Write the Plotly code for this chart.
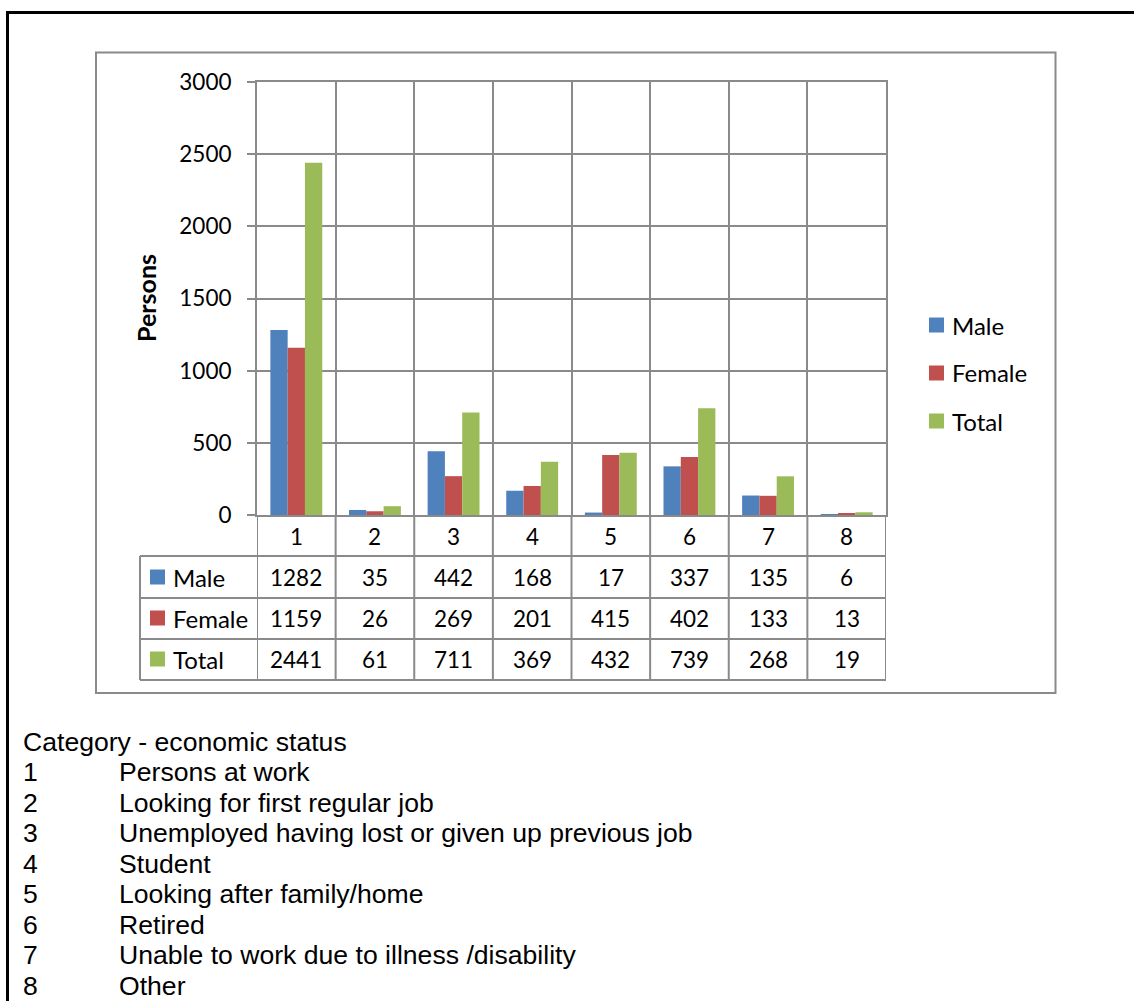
import plotly.graph_objects as go

# ---------------- data ----------------
categories = [1, 2, 3, 4, 5, 6, 7, 8]
series_names = ["Male", "Female", "Total"]
male = [1282, 35, 442, 168, 17, 337, 135, 6]
female = [1159, 26, 269, 201, 415, 402, 133, 13]
total = [2441, 61, 711, 369, 432, 739, 268, 19]
y_ticks = [0, 500, 1000, 1500, 2000, 2500, 3000]
y_title = "Persons"
note_title = "Category - economic status"
category_labels = [
    "Persons at work",
    "Looking for first regular job",
    "Unemployed having lost or given up previous job",
    "Student",
    "Looking after family/home",
    "Retired",
    "Unable to work due to illness /disability",
    "Other",
]

# ---------------- styling ----------------
W, H = 1134, 1001
COLORS = ["#4F81BD", "#C0504D", "#9BBB59"]
GRID = "#8a8a8a"
FONT = "Lato"
FS_NUM = 22.5
FS_TXT = 24


def X(p):
    return p / W


def Y(p):
    return 1 - p / H


series_values = [male, female, total]

fig = go.Figure()
for name, vals, col in zip(series_names, series_values, COLORS):
    fig.add_trace(go.Bar(x=categories, y=vals, name=name, marker_color=col,
                         marker_line_width=0, showlegend=False))

plot_left, plot_right, plot_top, plot_bottom = 257, 886, 82, 515
row_y = [536, 577, 618, 659]          # text centres of table rows
row_lines = [556, 598, 639, 680]
table_left = 140

shapes = []
annotations = []

# outer black frame and inner chart frame
shapes.append(dict(type="rect", xref="paper", yref="paper", x0=X(7.5), x1=X(1150),
                   y0=Y(12.5), y1=Y(1020), line=dict(color="black", width=3)))
shapes.append(dict(type="rect", xref="paper", yref="paper", x0=X(96), x1=X(1055.5),
                   y0=Y(52.5), y1=Y(693), line=dict(color=GRID, width=2)))

# data-table grid
for ly in row_lines:
    shapes.append(dict(type="line", xref="paper", yref="paper", x0=X(table_left), x1=X(plot_right),
                       y0=Y(ly), y1=Y(ly), line=dict(color=GRID, width=2)))
for c in categories + [0]:
    shapes.append(dict(type="line", xref="x", yref="paper", x0=c + 0.5, x1=c + 0.5,
                       y0=Y(plot_bottom), y1=Y(row_lines[-1]), line=dict(color=GRID, width=2)))
shapes.append(dict(type="line", xref="paper", yref="paper", x0=X(table_left), x1=X(table_left),
                   y0=Y(row_lines[0]), y1=Y(row_lines[-1]), line=dict(color=GRID, width=2)))

# category labels row
for c in categories:
    annotations.append(dict(x=c, y=Y(row_y[0]), xref="x", yref="paper", text=str(c),
                            showarrow=False, font=dict(family=FONT, size=FS_NUM, color="black"),
                            xanchor="center", yanchor="middle"))

# table rows
for i, (name, vals, col) in enumerate(zip(series_names, series_values, COLORS)):
    yc = row_y[i + 1]
    shapes.append(dict(type="rect", xref="paper", yref="paper", x0=X(150), x1=X(165),
                       y0=Y(yc - 7.5), y1=Y(yc + 7.5), fillcolor=col, line=dict(width=0)))
    annotations.append(dict(x=X(171), y=Y(yc), xref="paper", yref="paper", text=name,
                            showarrow=False, font=dict(family=FONT, size=FS_TXT, color="black"),
                            xanchor="left", yanchor="middle"))
    for c, v in zip(categories, vals):
        annotations.append(dict(x=c, y=Y(yc), xref="x", yref="paper", text=str(v),
                                showarrow=False, font=dict(family=FONT, size=FS_NUM, color="black"),
                                xanchor="center", yanchor="middle"))

# right legend
leg_y = [325, 373, 421]
for name, col, ly in zip(series_names, COLORS, leg_y):
    shapes.append(dict(type="rect", xref="paper", yref="paper", x0=X(929), x1=X(944),
                       y0=Y(ly - 7.5), y1=Y(ly + 7.5), fillcolor=col, line=dict(width=0)))
    annotations.append(dict(x=X(950), y=Y(ly), xref="paper", yref="paper", text=name,
                            showarrow=False, font=dict(family=FONT, size=FS_TXT, color="black"),
                            xanchor="left", yanchor="middle"))

# y title
annotations.append(dict(x=X(146), y=Y(298), xref="paper", yref="paper", text="<b>%s</b>" % y_title,
                        showarrow=False, textangle=-90,
                        font=dict(family=FONT, size=25, color="black"),
                        xanchor="center", yanchor="middle"))

# note below the chart
NOTE_FONT = dict(family="Liberation Sans", size=26.6, color="black")
annotations.append(dict(x=X(21), y=Y(742), xref="paper", yref="paper", text=note_title,
                        showarrow=False, font=NOTE_FONT, xanchor="left", yanchor="middle"))
for i, lab in enumerate(category_labels):
    yc = 742 + 30.45 * (i + 1)
    annotations.append(dict(x=X(21), y=Y(yc), xref="paper", yref="paper", text=str(categories[i]),
                            showarrow=False, font=NOTE_FONT, xanchor="left", yanchor="middle"))
    annotations.append(dict(x=X(117), y=Y(yc), xref="paper", yref="paper", text=lab,
                            showarrow=False, font=NOTE_FONT, xanchor="left", yanchor="middle"))

fig.update_layout(
    width=W, height=H,
    margin=dict(l=0, r=0, t=0, b=0, pad=0, autoexpand=False),
    paper_bgcolor="white", plot_bgcolor="white",
    barmode="group", bargap=0.34, bargroupgap=0,
    shapes=shapes, annotations=annotations,
    showlegend=False,
    xaxis=dict(domain=[X(plot_left), X(plot_right)], range=[0.5, 8.5], tick0=0.5, dtick=1,
               showgrid=True, gridcolor=GRID, gridwidth=2, showticklabels=False, ticks="",
               zeroline=False, showline=True, linecolor=GRID, linewidth=2, mirror=True,
               fixedrange=True, automargin=False),
    yaxis=dict(domain=[Y(plot_bottom), Y(plot_top)], range=[0, 3000], tickvals=y_ticks,
               showgrid=True, gridcolor=GRID, gridwidth=2, ticks="outside", ticklen=8,
               tickcolor=GRID, tickwidth=2, zeroline=False, showline=True, linecolor=GRID,
               linewidth=2, mirror=True, ticklabelstandoff=11, automargin=False,
               tickfont=dict(family=FONT, size=FS_NUM, color="black"), fixedrange=True),
)

fig.write_html("out.html", config={"displayModeBar": False},
               post_script="document.body.style.margin='0';")
